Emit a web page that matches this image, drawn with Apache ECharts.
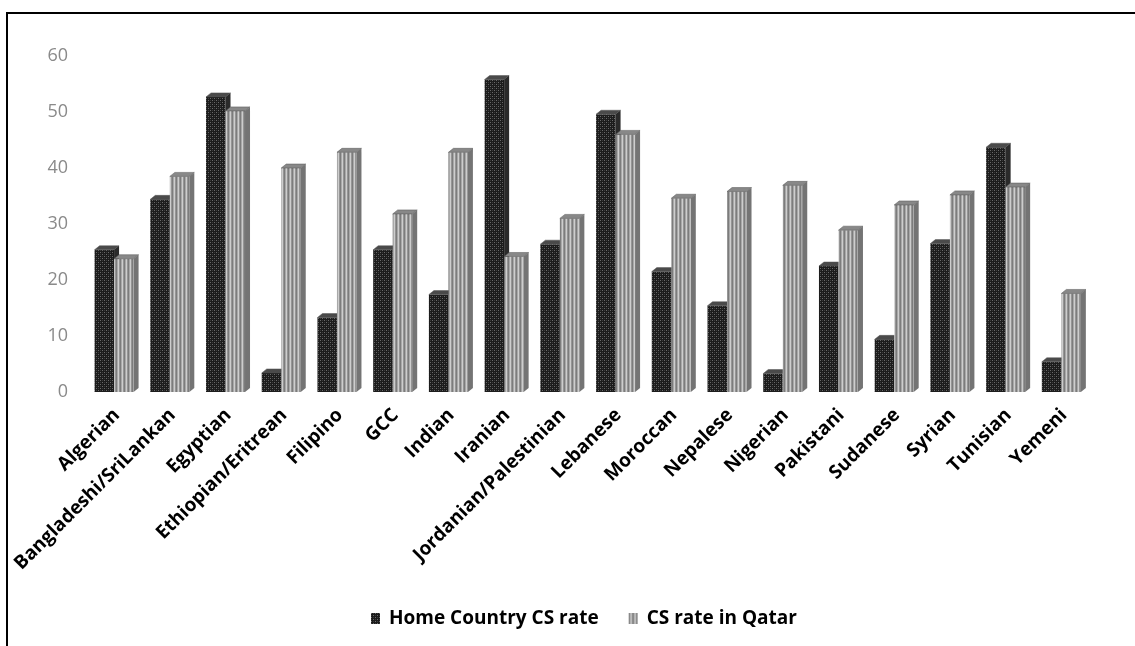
<!DOCTYPE html>
<html><head><meta charset="utf-8">
<script src="https://cdn.jsdelivr.net/npm/echarts@6/dist/echarts.min.js"></script>
<style>
html,body{margin:0;padding:0;background:#fff;width:1135px;height:646px;overflow:hidden;}
#frame{position:absolute;left:6px;top:12px;width:1200px;height:700px;border:2px solid #000;box-sizing:border-box;}
#chart{position:absolute;left:0;top:0;width:1135px;height:646px;}
</style></head>
<body>
<div id="frame"></div>
<div id="chart"></div>
<script>
const categories = ["Algerian","Bangladeshi/SriLankan","Egyptian","Ethiopian/Eritrean","Filipino","GCC","Indian","Iranian","Jordanian/Palestinian","Lebanese","Moroccan","Nepalese","Nigerian","Pakistani","Sudanese","Syrian","Tunisian","Yemeni"];
const homeRate = [25.4,34.4,52.7,3.4,13.3,25.4,17.4,55.8,26.4,49.6,21.5,15.4,3.3,22.5,9.4,26.5,43.7,5.4];
const qatarRate = [23.8,38.5,50.2,40,42.8,31.8,42.8,24.2,31,46,34.6,35.8,36.9,28.9,33.4,35.2,36.6,17.6];
const seriesNames = ["Home Country CS rate","CS rate in Qatar"];
const yTicks = [0,10,20,30,40,50,60];

function makePattern(w,h,draw){const c=document.createElement('canvas');c.width=w;c.height=h;const g=c.getContext('2d');draw(g);return {image:c,repeat:'repeat'};}
const darkPat = makePattern(4,4,g=>{g.fillStyle='#1c1c1c';g.fillRect(0,0,4,4);g.fillStyle='#6a6a6a';g.fillRect(0,0,1,1);g.fillRect(2,2,1,1);g.fillStyle='#3a3a3a';g.fillRect(2,0,1,1);g.fillRect(0,2,1,1);});
const lightPat = makePattern(4,4,g=>{g.fillStyle='#7c7c7c';g.fillRect(0,0,4,4);g.fillStyle='#a8a8a8';g.fillRect(1,0,1,4);g.fillStyle='#cdcdcd';g.fillRect(2,0,1,4);g.fillStyle='#959595';g.fillRect(3,0,1,4);});

const styles = [
  {front: darkPat, top:'#4a4a4a', side:'#2a2a2a'},
  {front: lightPat, top:'#888888', side:'#747474'}
];

function makeRender(si){
  return function(params, api){
    const idx = api.value(0), v = api.value(1);
    const pTop = api.coord([idx, v]);
    const pBase = api.coord([idx, 0]);
    const band = api.size([1,0])[0];
    const w = band*0.35;
    const dx = 5, dy = 4;
    const x0 = pTop[0] - band*0.40 + si*w;
    const yT = pTop[1], yB = pBase[1];
    const st = styles[si];
    return {type:'group', children:[
      {type:'rect', shape:{x:x0,y:yT,width:w,height:yB-yT}, style:{fill:st.front}},
      {type:'polygon', shape:{points:[[x0,yT],[x0+dx,yT-dy],[x0+w+dx,yT-dy],[x0+w,yT]]}, style:{fill:st.top, stroke:'#555', lineWidth:0.5}},
      {type:'polygon', shape:{points:[[x0+w,yT],[x0+w+dx,yT-dy],[x0+w+dx,yB-dy],[x0+w,yB]]}, style:{fill:st.side}}
    ]};
  };
}

const chart = echarts.init(document.getElementById('chart'));
chart.setOption({
  animation:false,
  grid:{left:89,right:43,top:56,bottom:254,containLabel:false},
  legend:{bottom:13,left:366,itemGap:30,itemWidth:9,itemHeight:11,icon:'rect',
    textStyle:{fontFamily:'Open Sans',fontWeight:'bold',fontSize:19,color:'#000',padding:[0,0,0,4]},
    data:[{name:seriesNames[0],itemStyle:{color:darkPat}},{name:seriesNames[1],itemStyle:{color:lightPat}}]},
  xAxis:{type:'category',data:categories,axisLine:{show:false},axisTick:{show:false},
    axisLabel:{rotate:45,interval:0,margin:20,fontFamily:'Open Sans',fontWeight:'bold',fontSize:19,color:'#000'}},
  yAxis:{type:'value',min:yTicks[0],max:yTicks[yTicks.length-1],interval:10,splitLine:{show:false},axisLine:{show:false},axisTick:{show:false},
    axisLabel:{margin:21,fontFamily:'Open Sans',fontSize:18,color:'#8a8a8a'}},
  series:[
    {name:seriesNames[0],type:'custom',renderItem:makeRender(0),itemStyle:{color:darkPat},data:homeRate.map((v,i)=>[i,v]),encode:{x:0,y:1}},
    {name:seriesNames[1],type:'custom',renderItem:makeRender(1),itemStyle:{color:lightPat},data:qatarRate.map((v,i)=>[i,v]),encode:{x:0,y:1}}
  ]
});
</script>
</body></html>
